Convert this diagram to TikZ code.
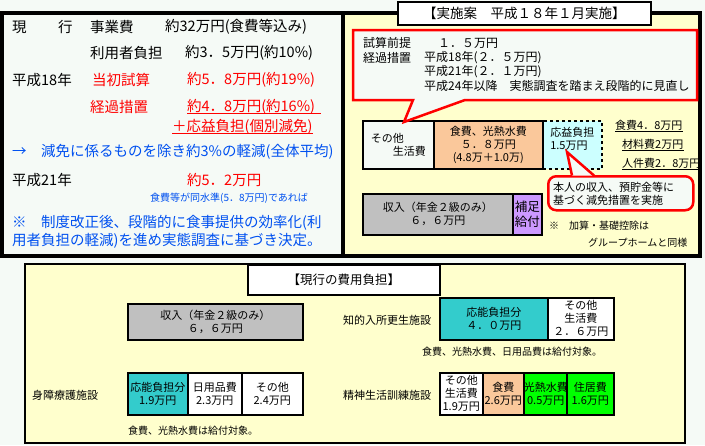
\documentclass[tikz,border=0pt]{standalone}
\usepackage{fontspec}
\setmainfont{Noto Sans CJK JP}
\usepackage{xcolor}
\usepackage{tikz}

\definecolor{bg}{RGB}{245,250,246}
\definecolor{hatch}{RGB}{255,255,205}
\definecolor{peach}{RGB}{250,200,155}
\definecolor{teal1}{RGB}{51,204,204}
\definecolor{lcyan}{RGB}{204,255,255}
\definecolor{purple1}{RGB}{204,153,255}
\definecolor{gray1}{RGB}{192,192,192}
\definecolor{green1}{RGB}{0,255,0}
\definecolor{blue1}{RGB}{0,80,240}

\newcommand\sizeL{\fontsize{14.5}{19}\selectfont}
\newcommand\sizeT{\fontsize{13.5}{16}\selectfont}
\newcommand\sizeM{\fontsize{12}{14}\selectfont}
\newcommand\sizeP{\fontsize{12.5}{15}\selectfont}
\newcommand\sizeS{\fontsize{11}{13}\selectfont}
\newcommand\sizeN{\fontsize{10}{12}\selectfont}

\tikzset{cell/.style={draw,line width=1.5pt,inner sep=0pt,anchor=north west,align=center,font=\sizeS},
         txt/.style={anchor=west,inner sep=0pt}}

\begin{document}
\begin{tikzpicture}[x=1pt,y=-1pt]
    \fill[bg] (0,0) rectangle (705,445);
    \useasboundingbox (0,0) rectangle (705,445);

    % upper panels
    \fill[bg] (2,13) rectangle (343,256);
    \fill[hatch] (343,13) rectangle (700,256);
    \draw[line width=4pt] (2,13) rectangle (700,256);
    \draw[line width=4pt] (343,13) -- (343,256);
    \node[cell,fill=white,minimum width=253,minimum height=23,font=\sizeT] (plan) at (397,1) {【実施案　平成１８年１月実施】};

    % left: current burden
    \node[txt,font=\sizeL] (cur) at (12,27) {現};
    \node[txt,font=\sizeL] (cur2) at (58,27) {行};
    \node[txt,font=\sizeL] (cost) at (90,27) {事業費};
    \node[txt,font=\sizeL] (costval) at (165,27) {約32万円(食費等込み)};
    \node[txt,font=\sizeL] (user) at (90,53) {利用者負担};
    \node[txt,font=\sizeL] (userval) at (185,53) {約3．5万円(約10\%)};
    \node[txt,font=\sizeL] (h18) at (12,80) {平成18年};
    \node[txt,font=\sizeL,red] (init) at (92,80) {当初試算};
    \node[txt,font=\sizeL,red] (initval) at (187,80) {約5．8万円(約19\%)};
    \node[txt,font=\sizeL,red] (trans) at (90,107) {経過措置};
    \node[txt,font=\sizeL,red] (transval) at (187,107) {約4．8万円(約16\%)};
    \node[txt,font=\sizeL,red] (plus) at (172,127) {＋応益負担(個別減免)};
    \draw[red,line width=1.5pt] ([yshift=-2pt]transval.base west) -- ([yshift=-2pt,xshift=6pt]transval.base east);
    \draw[red,line width=1.5pt] ([yshift=-2pt]plus.base west) -- ([yshift=-2pt]plus.base east);
    \node[txt,font=\sizeL,blue1] (avg) at (12,152) {→　減免に係るものを除き約3\%の軽減(全体平均)};
    \node[txt,font=\sizeL] (h21) at (12,180) {平成21年};
    \node[txt,font=\sizeL,red] (h21val) at (187,180) {約5．2万円};
    \node[txt,font=\sizeN,blue1] (cond) at (150,198) {食費等が同水準(5．8万円)であれば};
    \node[txt,font=\sizeL,blue1] (rem1) at (12,223) {※　制度改正後、段階的に食事提供の効率化(利};
    \node[txt,font=\sizeL,blue1] (rem2) at (12,241) {用者負担の軽減)を進め実態調査に基づき決定。};

    % right: plan
    \node[cell,fill=bg,align=left,minimum width=71,minimum height=48] (other) at (362,120) {その他\\\hspace{2em}生活費};
    \node[cell,dashed,fill=lcyan,align=left,minimum width=59,minimum height=48] (benefit) at (542,120) {応益負担\\1.5万円\\\mbox{}};
    \node[cell,fill=peach,minimum width=109,minimum height=48] (food) at (433,120) {食費、光熱水費\\５．８万円\\(4.8万＋1.0万)};

    \draw[red,line width=2.5pt,fill=bg] (353,30) -- (697,30) -- (697,100) -- (465,100) -- (404,122) -- (413,100) -- (353,100) -- cycle;
    \node[txt,font=\sizeM] (pre) at (363,43) {試算前提};
    \node[txt,font=\sizeM] (preval) at (438,43) {１．５万円};
    \node[txt,font=\sizeM] (step1) at (363,57.5) {経過措置};
    \node[txt,font=\sizeM] (step1val) at (424,57.5) {平成18年(２．５万円)};
    \node[txt,font=\sizeM] (step2val) at (424,72) {平成21年(２．１万円)};
    \node[txt,font=\sizeM] (step3val) at (424,86) {平成24年以降　実態調査を踏まえ段階的に見直し};

    \node[txt,font=\sizeS] (meal) at (615,125) {食費4．8万円};
    \node[txt,font=\sizeS] (mat) at (622,144) {材料費2万円};
    \node[txt,font=\sizeS] (staff) at (622,163) {人件費2．8万円};
    \foreach \n in {meal,mat,staff}
        \draw[line width=1.2pt] ([yshift=-2pt]\n.base west) -- ([yshift=-2pt]\n.base east);

    \node[draw=red,line width=2.5pt,rounded corners=8pt,fill=bg,minimum width=145,minimum height=34,anchor=north west,inner sep=0pt] (relief) at (547,175) {};
    \filldraw[draw=red,line width=2.5pt,fill=bg] (572,175.5) -- (567,152) -- (594,175.5);
    \node[txt,font=\sizeS,align=left] (relieftxt) at (553,194) {本人の収入、預貯金等に\\基づく減免措置を実施};

    \node[cell,fill=gray1,minimum width=150,minimum height=41] (income) at (362,193) {収入（年金２級のみ）\\６，６万円};
    \node[cell,fill=purple1,minimum width=29,minimum height=41,font=\sizeP] (supp) at (512,193) {補足\\給付};
    \node[txt,font=\sizeN] (note1) at (549,226) {※　加算・基礎控除は};
    \node[txt,font=\sizeN] (note2) at (588,242.5) {グループホームと同様};

    % lower panel
    \draw[fill=hatch,line width=1.3pt] (25,264) rectangle (685,443);
    \node[cell,fill=white,minimum width=192,minimum height=30,font=\sizeP] (nowtitle) at (247,264) {【現行の費用負担】};

    \node[cell,fill=gray1,minimum width=175,minimum height=36] (income2) at (127,303) {収入（年金２級のみ）\\６，６万円};

    \node[txt,font=\sizeS] (care) at (32,395) {身障療護施設};
    \node[cell,fill=teal1,minimum width=60,minimum height=42] (care1) at (127,372) {応能負担分\\1.9万円};
    \node[cell,fill=white,minimum width=54,minimum height=42] (care2) at (187,372) {日用品費\\2.3万円};
    \node[cell,fill=white,minimum width=61,minimum height=42] (care3) at (241,372) {その他\\2.4万円};
    \node[txt,font=\sizeN] (carenote) at (128,431) {食費、光熱水費は給付対象。};

    \node[txt,font=\sizeS] (intel) at (343,320) {知的入所更生施設};
    \node[cell,fill=teal1,minimum width=108,minimum height=42] (intel1) at (439,297) {応能負担分\\４．０万円};
    \node[cell,fill=white,minimum width=66,minimum height=42] (intel2) at (547,297) {その他\\生活費\\２．６万円};
    \node[txt,font=\sizeN] (intelnote) at (422,352) {食費、光熱水費、日用品費は給付対象。};

    \node[txt,font=\sizeS] (mental) at (343,395) {精神生活訓練施設};
    \node[cell,fill=white,minimum width=43,minimum height=42] (mental1) at (439,372) {その他\\生活費\\1.9万円};
    \node[cell,fill=peach,minimum width=41,minimum height=42] (mental2) at (482,372) {食費\\2.6万円};
    \node[cell,fill=green1,minimum width=43,minimum height=42] (mental3) at (523,372) {光熱水費\\0.5万円};
    \node[cell,fill=green1,minimum width=47,minimum height=42] (mental4) at (566,372) {住居費\\1.6万円};
\end{tikzpicture}
\end{document}
